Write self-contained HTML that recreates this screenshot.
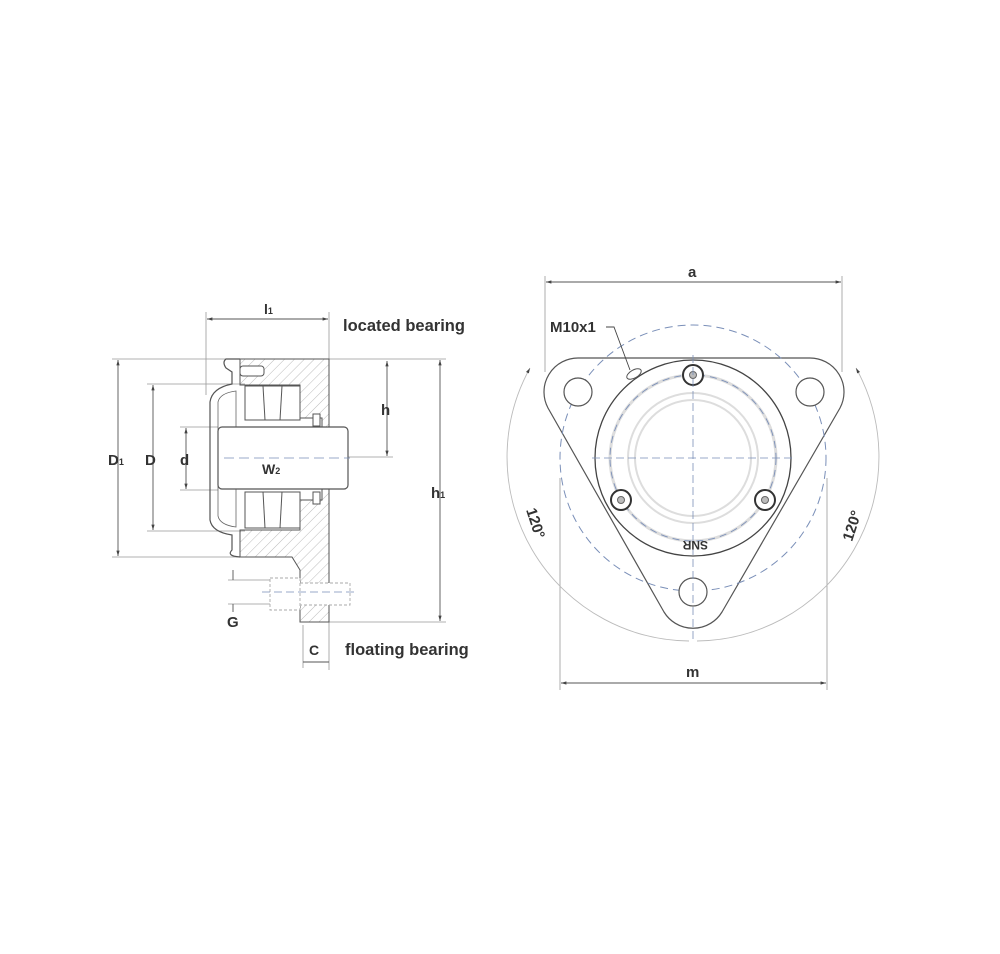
<!DOCTYPE html>
<html><head><meta charset="utf-8"><style>
html,body{margin:0;padding:0;background:#fff;}
svg{display:block}
text{font-family:"Liberation Sans",sans-serif;font-weight:bold;fill:#333}
</style></head><body>
<svg width="1000" height="954" viewBox="0 0 1000 954" xmlns="http://www.w3.org/2000/svg">
<defs>
<pattern id="h" width="7" height="7" patternUnits="userSpaceOnUse" patternTransform="rotate(45)">
<line x1="0" y1="0" x2="0" y2="7" stroke="#bbb" stroke-width="1"/></pattern>
<marker id="a" viewBox="0 0 10 10" refX="10" refY="5" markerWidth="6" markerHeight="6" orient="auto-start-reverse"><path d="M0,2L10,5L0,8z" fill="#444"/></marker>
</defs>
<g stroke="#999" stroke-width="0.8" fill="none">
<line x1="206" y1="312" x2="206" y2="395"/>
<line x1="329" y1="312" x2="329" y2="670"/>
<line x1="112" y1="359" x2="240" y2="359"/><line x1="112" y1="557" x2="240" y2="557"/>
<line x1="147" y1="384" x2="245" y2="384"/><line x1="147" y1="531" x2="245" y2="531"/>
<line x1="180" y1="427" x2="218" y2="427"/><line x1="180" y1="490" x2="218" y2="490"/>
<line x1="329" y1="359" x2="446" y2="359"/><line x1="329" y1="622" x2="446" y2="622"/>
<line x1="348" y1="457" x2="393" y2="457"/>
<line x1="228" y1="580" x2="270" y2="580"/><line x1="228" y1="604" x2="270" y2="604"/>
<line x1="303" y1="625" x2="303" y2="668"/>
</g>
<g stroke="#555" stroke-width="0.9" fill="none" marker-start="url(#a)" marker-end="url(#a)">
<line x1="207" y1="319" x2="328" y2="319"/>
<line x1="118" y1="360" x2="118" y2="556"/>
<line x1="153" y1="385" x2="153" y2="530"/>
<line x1="186" y1="428" x2="186" y2="489"/>
<line x1="387" y1="361" x2="387" y2="456"/>
<line x1="440" y1="360" x2="440" y2="621"/>
<line x1="221" y1="479" x2="324" y2="479"/>
<line x1="546" y1="282" x2="841" y2="282"/>
<line x1="561" y1="683" x2="826" y2="683"/>
</g>
<g stroke="#555" stroke-width="0.9" fill="none">
<line x1="233" y1="570" x2="233" y2="580"/><line x1="233" y1="604" x2="233" y2="612"/>
<line x1="303" y1="662" x2="329" y2="662"/>
</g>
<path d="M240,359 L329,359 L329,622 L300,622 L300,570 L292,557 L240,557 L240,530 L300,530 L300,500 L322,500 L322,418 L300,418 L300,385 L240,385 Z" fill="url(#h)" stroke="#555" stroke-width="1"/>
<path d="M240,359 L226,359 Q222,362 226,368 L232,372 L232,384 Q212,388 210,402 L210,520 Q212,532 232,535 L232,550 Q226,556 240,557" fill="none" stroke="#555" stroke-width="1.2"/>
<path d="M218,402 Q220,393 236,391 L236,527 Q220,525 218,516 Z" fill="none" stroke="#666" stroke-width="0.8"/>
<rect x="240" y="366" width="24" height="10" rx="3" fill="#fff" stroke="#555"/>
<g fill="#fff" stroke="#555" stroke-width="1">
<rect x="245" y="386" width="55" height="34"/><line x1="263" y1="386" x2="265" y2="420"/><line x1="282" y1="386" x2="280" y2="420"/>
<rect x="245" y="492" width="55" height="36"/><line x1="263" y1="492" x2="265" y2="528"/><line x1="282" y1="492" x2="280" y2="528"/>
<rect x="313" y="414" width="7" height="12"/><rect x="313" y="492" width="7" height="12"/>
</g>
<rect x="218" y="427" width="130" height="62" rx="4" fill="#fff" stroke="#555" stroke-width="1.2"/>
<line x1="224" y1="458" x2="350" y2="458" stroke="#7a8fb8" stroke-width="0.8" stroke-dasharray="10,5"/>
<path d="M270,578 h30 v32 h-30 z M300,583 h50 v22 h-50" fill="#fff" stroke="#aaa" stroke-width="0.9" stroke-dasharray="3,2"/>
<line x1="262" y1="592" x2="355" y2="592" stroke="#7a8fb8" stroke-width="0.8" stroke-dasharray="8,4"/>
<text x="264" y="314" font-size="14">l<tspan font-size="9">1</tspan></text>
<text x="343" y="331" font-size="16.5">located bearing</text>
<text x="108" y="465" font-size="15">D<tspan font-size="9">1</tspan></text>
<text x="145" y="465" font-size="15">D</text>
<text x="180" y="465" font-size="15">d</text>
<text x="381" y="415" font-size="15">h</text>
<text x="431" y="498" font-size="15">h<tspan font-size="9">1</tspan></text>
<text x="262" y="474" font-size="14">W<tspan font-size="9">2</tspan></text>
<text x="227" y="627" font-size="15">G</text>
<text x="309" y="655" font-size="14">C</text>
<text x="345" y="655" font-size="16.5">floating bearing</text>

<g stroke="#999" stroke-width="0.8" fill="none">
<line x1="545" y1="276" x2="545" y2="372"/><line x1="842" y1="276" x2="842" y2="372"/>
<line x1="560" y1="478" x2="560" y2="690"/><line x1="827" y1="478" x2="827" y2="690"/>
</g>
<path d="M530,368 A184,184 0 0 0 689,641" fill="none" stroke="#bbb" stroke-width="0.9" marker-start="url(#a)"/>
<path d="M856,368 A184,184 0 0 1 697,641" fill="none" stroke="#bbb" stroke-width="0.9" marker-start="url(#a)"/>
<path d="M578,358 L810,358 A34,34 0 0 1 840,408 L722,612 A34,34 0 0 1 664,612 L548,408 A34,34 0 0 1 578,358 Z" fill="#fff" stroke="#555" stroke-width="1.2"/>
<circle cx="693" cy="458" r="133" fill="none" stroke="#7a8fb8" stroke-width="1" stroke-dasharray="8,5"/>
<circle cx="693" cy="458" r="98" fill="#fff" stroke="#444" stroke-width="1.3"/>
<circle cx="693" cy="458" r="83" fill="none" stroke="#ddd" stroke-width="3"/>
<circle cx="693" cy="458" r="83" fill="none" stroke="#7a8fb8" stroke-width="0.9" stroke-dasharray="7,5"/>
<circle cx="693" cy="458" r="65" fill="none" stroke="#ddd" stroke-width="2"/>
<circle cx="693" cy="458" r="58" fill="none" stroke="#ddd" stroke-width="2"/>
<g fill="#fff" stroke="#555" stroke-width="1.2">
<circle cx="578" cy="392" r="14"/><circle cx="810" cy="392" r="14"/><circle cx="693" cy="592" r="14"/>
</g>
<g fill="#fff" stroke="#333" stroke-width="2">
<circle cx="693" cy="375" r="10"/><circle cx="621" cy="500" r="10"/><circle cx="765" cy="500" r="10"/>
</g>
<g fill="#bbb" stroke="#666"><circle cx="693" cy="375" r="3.5"/><circle cx="621" cy="500" r="3.5"/><circle cx="765" cy="500" r="3.5"/></g>
<g stroke="#7a8fb8" stroke-width="0.8" stroke-dasharray="8,4">
<line x1="693" y1="355" x2="693" y2="640"/><line x1="592" y1="458" x2="795" y2="458"/>
</g>
<ellipse cx="634" cy="374" rx="8" ry="4" transform="rotate(-30 634 374)" fill="#fff" stroke="#555"/>
<path d="M606,327 L614,327 L630,370" fill="none" stroke="#444" stroke-width="0.9"/>
<text x="676" y="549" font-size="12" fill="#666" transform="rotate(180 692 545)">SNR</text>
<text x="688" y="277" font-size="15">a</text>
<text x="686" y="677" font-size="15">m</text>
<text x="550" y="332" font-size="15">M10x1</text>
<text x="0" y="0" font-size="15" transform="translate(526,510) rotate(72)">120°</text>
<text x="0" y="0" font-size="15" transform="translate(852,542) rotate(-72)">120°</text>
</svg>
</body></html>
